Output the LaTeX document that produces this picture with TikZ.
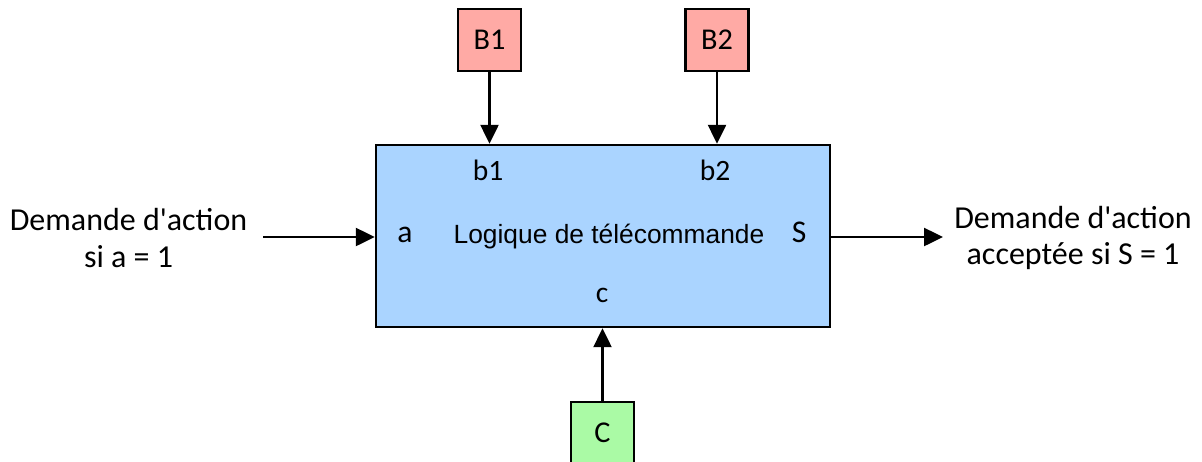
\documentclass[tikz,border=0pt]{standalone}
\usepackage{fontspec}
\setmainfont{Carlito}
\newfontfamily\arialfont{Liberation Sans}
\usepackage{tikz}
\usetikzlibrary{arrows.meta, positioning, calc}
\definecolor{inputcolor}{RGB}{255, 170, 165}
\definecolor{logiccolor}{RGB}{170, 212, 255}
\definecolor{ctrlcolor}{RGB}{170, 250, 165}

\begin{document}
\begin{tikzpicture}[
    logic/.style={draw, line width=0.7pt, fill=logiccolor, minimum width=4.54cm, minimum height=1.82cm},
    switch/.style={draw, line width=0.7pt, minimum width=0.63cm, minimum height=0.62cm, inner sep=0pt, font=\fontsize{8.6}{9}\selectfont},
    port/.style={anchor=base, inner sep=0pt, font=\fontsize{8.4}{9}\selectfont},
    signal/.style={-{Triangle[length=0.19cm, width=0.18cm]}, line width=0.7pt},
    outside/.style={align=center, inner sep=0pt, font=\fontsize{9.1}{10.3}\selectfont}
]
    \useasboundingbox (0,0) rectangle (12.02,4.61);

    % Remote control logic block
    \node[logic] (logic) at (6.03, 2.25) {};
    \node[anchor=base, inner sep=0pt, font=\arialfont\fontsize{7.5}{9}\selectfont] (title) at (6.09, 2.18) {Logique de télécommande};

    % Ports of the block
    \node[port, font=\fontsize{9}{9}\selectfont] (pa) at (4.05, 2.19) {a};
    \node[port, font=\fontsize{9}{9}\selectfont] (ps) at (7.99, 2.19) {S};
    \node[port] (pb1) at (4.88, 2.81) {b1};
    \node[port] (pb2) at (7.15, 2.81) {b2};
    \node[port] (pc) at (6.02, 1.59) {c};

    % Buttons and control input
    \node[switch, fill=inputcolor] (B1) at (4.895, 4.21) {B1};
    \node[switch, fill=inputcolor] (B2) at (7.17, 4.21) {B2};
    \node[switch, fill=ctrlcolor] (C) at (6.025, 0.28) {C};

    \draw[signal] (B1) -- (B1 |- logic.north);
    \draw[signal] (B2) -- (B2 |- logic.north);
    \draw[signal] (C) -- (C |- logic.south);

    % Request in and accepted request out
    \coordinate (ain) at (2.63, 2.24);
    \coordinate (sout) at (9.43, 2.24);
    \draw[signal] (ain) -- (ain -| logic.west);
    \draw[signal] (sout -| logic.east) -- (sout);

    \node[outside] (request) at (1.285, 2.23) {Demande d\textquotesingle action\\si a = 1};
    \node[outside] (accepted) at (10.73, 2.23) {Demande d\textquotesingle action\\acceptée si S = 1};

\end{tikzpicture}
\end{document}
